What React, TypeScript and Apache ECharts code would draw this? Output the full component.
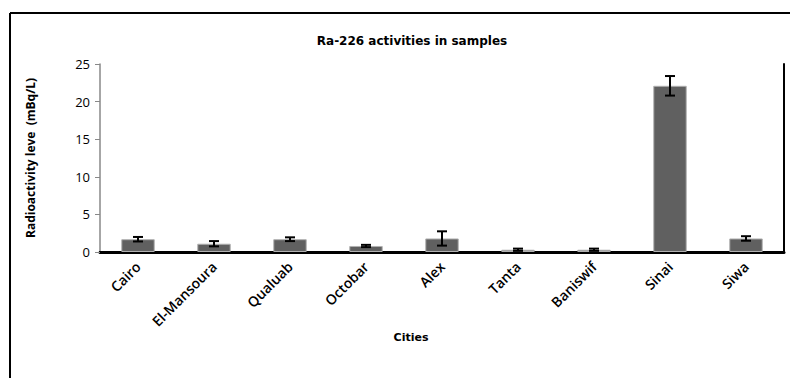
import React, { useEffect, useRef } from "react";
import * as echarts from "echarts";

const categories = ["Cairo", "El-Mansoura", "Qualuab", "Octobar", "Alex", "Tanta", "Baniswif", "Sinai", "Siwa"];
const values = [1.7, 1.1, 1.7, 0.8, 1.8, 0.3, 0.3, 22.1, 1.8];
const errors = [0.3, 0.35, 0.25, 0.15, 0.95, 0.15, 0.15, 1.3, 0.3];
const yTicks = [0, 5, 10, 15, 20, 25];

const FONT = "'Open Sans', 'Noto Sans', sans-serif";
const WIDE = "'DejaVu Sans', sans-serif";

export default function App() {
  const ref = useRef<HTMLDivElement>(null);
  useEffect(() => {
    if (!ref.current) return;
    const chart = echarts.init(ref.current, null, { renderer: "svg" });
    const errData = values.map((v, i) => [i, v - errors[i], v + errors[i]]);
    chart.setOption({
      animation: false,
      backgroundColor: "#fff",
      title: {
        text: "Ra-226 activities in samples",
        left: 407,
        top: 30,
        textAlign: "center",
        textStyle: { fontFamily: WIDE, fontSize: 12, fontWeight: "bold", color: "#000" },
      },
      grid: { left: 100, right: 6, top: 64, bottom: 126, containLabel: false },
      xAxis: [
        {
          type: "category",
          data: categories,
          name: "Cities",
          nameLocation: "middle",
          nameGap: 78,
          nameTextStyle: {
            fontFamily: WIDE,
            fontSize: 11,
            fontWeight: "bold",
            color: "#000",
            padding: [0, 62, 0, 0],
          },
          axisLine: { lineStyle: { color: "#000", width: 2 } },
          axisTick: { show: false },
          axisLabel: { rotate: 45, fontFamily: FONT, fontSize: 14, fontWeight: 600, color: "#000", margin: 12, interval: 0 },
        },
        {
          type: "category",
          data: categories,
          position: "top",
          axisLine: { show: true, lineStyle: { color: "#000", width: 3 } },
          axisTick: { show: false },
          axisLabel: { show: false },
        },
      ],
      yAxis: [
        {
          type: "value",
          min: 0,
          max: 25,
          interval: 5,
          name: "Radioactivity leve  (mBq/L)",
          nameLocation: "middle",
          nameGap: 64,
          nameTextStyle: { fontFamily: FONT, fontSize: 12, fontWeight: "bold", color: "#000" },
          axisLine: { show: true, lineStyle: { color: "#888", width: 1.5 } },
          axisTick: { show: true, length: 5, lineStyle: { color: "#888" } },
          axisLabel: {
            fontFamily: FONT,
            fontSize: 13,
            color: "#000",
            margin: 10,
            formatter: (v: number) => (yTicks.includes(v) ? String(v) : ""),
          },
          splitLine: { show: false },
        },
        {
          type: "value",
          min: 0,
          max: 25,
          interval: 5,
          position: "right",
          axisLine: { show: true, lineStyle: { color: "#000", width: 2 } },
          axisTick: { show: false },
          axisLabel: { show: false },
          splitLine: { show: false },
        },
      ],
      graphic: [
        { type: "line", shape: { x1: 10, y1: 13, x2: 790, y2: 13 }, style: { stroke: "#000", lineWidth: 2 } },
        { type: "line", shape: { x1: 10, y1: 13, x2: 10, y2: 378 }, style: { stroke: "#000", lineWidth: 2 } },
      ],
      series: [
        {
          type: "bar",
          data: values,
          barWidth: "44%",
          itemStyle: { color: "#606060", borderColor: "#b0b0b0", borderWidth: 1 },
        },
        {
          type: "custom",
          data: errData,
          z: 10,
          renderItem: (params: any, api: any) => {
            const x = api.value(0);
            const lo = api.coord([x, api.value(1)]);
            const hi = api.coord([x, api.value(2)]);
            const hw = 5;
            const style = { stroke: "#000", lineWidth: 2 };
            return {
              type: "group",
              children: [
                { type: "line", shape: { x1: lo[0], y1: lo[1], x2: hi[0], y2: hi[1] }, style },
                { type: "line", shape: { x1: hi[0] - hw, y1: hi[1], x2: hi[0] + hw, y2: hi[1] }, style },
                { type: "line", shape: { x1: lo[0] - hw, y1: lo[1], x2: lo[0] + hw, y2: lo[1] }, style },
              ],
            };
          },
        },
      ],
    });
    return () => chart.dispose();
  }, []);
  return <div ref={ref} style={{ width: 790, height: 378, position: "absolute", left: 0, top: 0 }} />;
}
